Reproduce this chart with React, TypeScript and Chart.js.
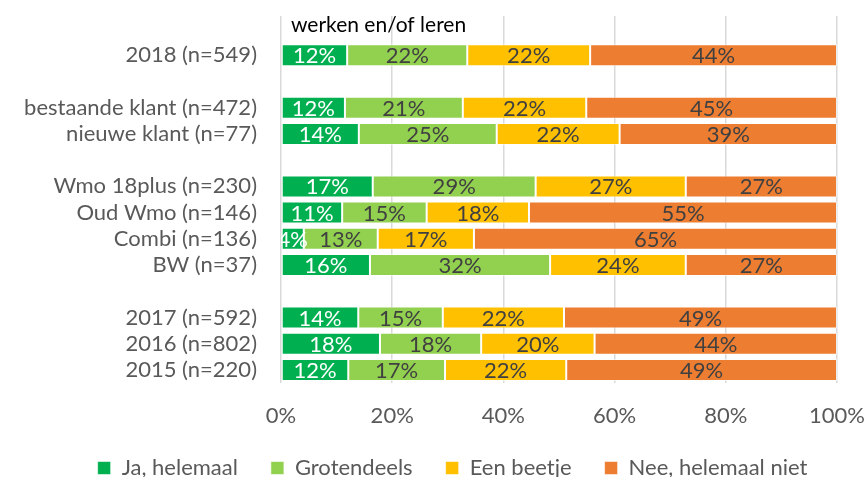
import React, { useEffect, useRef } from "react";
import { Chart, registerables } from "chart.js";

Chart.register(...registerables);

const categories = [
  "",
  "2018 (n=549)",
  "",
  "bestaande klant (n=472)",
  "nieuwe klant (n=77)",
  "",
  "Wmo 18plus (n=230)",
  "Oud Wmo (n=146)",
  "Combi (n=136)",
  "BW (n=37)",
  "",
  "2017 (n=592)",
  "2016 (n=802)",
  "2015 (n=220)",
];

const jaHelemaal = [null, 11.9, null, 11.5, 14.0, null, 16.5, 11.0, 4.1, 16.0, null, 13.9, 17.8, 12.1];
const grotendeels = [null, 21.6, null, 21.2, 24.8, null, 29.3, 15.2, 13.3, 32.4, null, 15.2, 18.2, 17.4];
const eenBeetje = [null, 22.1, null, 22.2, 22.1, null, 27.0, 18.4, 17.3, 24.4, null, 21.8, 20.4, 21.8];
const neeHelemaalNiet = [null, 44.4, null, 45.1, 39.1, null, 27.2, 55.4, 65.3, 27.2, null, 49.1, 43.6, 48.7];

const seriesNames = ["Ja, helemaal", "Grotendeels", "Een beetje", "Nee, helemaal niet"];
const seriesColors = ["#00B050", "#92D050", "#FFC000", "#ED7D31"];
const labelColors = ["#FFFFFF", "#404040", "#404040", "#404040"];
const chartTitle = "werken en/of leren";
const xTicks = [0, 20, 40, 60, 80, 100];

const FONT = "Lato";
const TICK_SIZE = 22;
const LEGEND_PAD = 33;
const LEGEND_SIZE = 22;

const labelPlugin = {
  id: "barLabels",
  afterDatasetsDraw(chart: any) {
    const ctx = chart.ctx;
    const area = chart.chartArea;
    ctx.save();
    ctx.beginPath();
    ctx.rect(area.left, area.top, area.right - area.left, area.bottom - area.top);
    ctx.clip();
    ctx.font = `22px ${FONT}`;
    ctx.textAlign = "center";
    ctx.textBaseline = "middle";
    chart.data.datasets.forEach((ds: any, i: number) => {
      const meta = chart.getDatasetMeta(i);
      meta.data.forEach((el: any, j: number) => {
        const v = ds.data[j];
        if (v == null) return;
        const p = el.getProps(["x", "base", "y"], true);
        ctx.fillStyle = labelColors[i];
        ctx.fillText(Math.round(v) + "%", (p.x + p.base) / 2, p.y + 1);
      });
    });
    ctx.restore();
    ctx.save();
    ctx.font = `21px ${FONT}`;
    ctx.fillStyle = "#000000";
    ctx.textAlign = "left";
    ctx.textBaseline = "alphabetic";
    ctx.fillText(chartTitle, area.left + 10, area.top + 16);
    ctx.restore();
  },
  afterLayout(chart: any) {
    const lg = chart.legend;
    if (lg) {
      lg.top = 468 - LEGEND_PAD - LEGEND_SIZE / 2;
      lg.bottom = chart.height;
      lg.left += 34;
      lg.right += 34;
    }
  },
};

export default function App() {
  const ref = useRef<HTMLCanvasElement>(null);
  useEffect(() => {
    document.body.style.margin = "0";
    const seriesData = [jaHelemaal, grotendeels, eenBeetje, neeHelemaalNiet];
    const chart = new Chart(ref.current as HTMLCanvasElement, {
      type: "bar",
      data: {
        labels: categories,
        datasets: seriesData.map((d, i) => ({
          label: seriesNames[i],
          data: d,
          backgroundColor: seriesColors[i],
          borderColor: "rgba(255,255,255,0.55)",
          borderWidth: 1,
          borderSkipped: false,
          barPercentage: 0.84,
          categoryPercentage: 1,
        })),
      },
      options: {
        indexAxis: "y",
        animation: false,
        responsive: false,
        layout: { padding: { top: 16, right: 31, left: 0, bottom: 0 } },
        plugins: {
          legend: {
            position: "bottom",
            maxHeight: 20,
            labels: {
              boxWidth: 13,
              boxHeight: 13,
              padding: LEGEND_PAD,
              color: "#595959",
              font: { family: FONT, size: LEGEND_SIZE },
            },
          },
          tooltip: { enabled: false },
          title: { display: false },
        },
        scales: {
          x: {
            stacked: true,
            min: 0,
            max: 100,
            afterBuildTicks(scale: any) {
              scale.ticks = xTicks.map((v) => ({ value: v }));
            },
            afterFit(scale: any) {
              scale.height = 74;
              scale.paddingLeft = 0;
              scale.paddingRight = 0;
            },
            ticks: {
              padding: 20,
              color: "#595959",
              font: { family: FONT, size: TICK_SIZE },
              callback: (v: any) => v + "%",
            },
            grid: { color: "#D9D9D9", lineWidth: 1.5, drawTicks: false },
            border: { display: false },
          },
          y: {
            stacked: true,
            afterFit(scale: any) {
              scale.width = 281;
              scale.paddingTop = 0;
              scale.paddingBottom = 0;
            },
            ticks: {
              autoSkip: false,
              padding: 24,
              color: "#595959",
              font: { family: FONT, size: TICK_SIZE },
            },
            grid: { display: false, drawTicks: false },
            border: { display: false },
          },
        },
      },
      plugins: [labelPlugin],
    } as any);
    return () => chart.destroy();
  }, []);
  return (
    <div style={{ width: 868, height: 477 }}>
      <canvas ref={ref} width={868} height={477} />
    </div>
  );
}
